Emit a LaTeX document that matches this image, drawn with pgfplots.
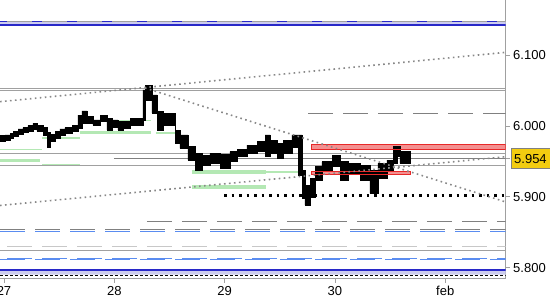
\documentclass[border=0pt]{standalone}
\usepackage{fontspec}
\setmainfont{Liberation Sans}
\usepackage{pgfplots}
\pgfplotsset{compat=1.18}
\definecolor{glin}{HTML}{A0A0A0}
\definecolor{dotg}{HTML}{888888}
\definecolor{dglin}{HTML}{808080}
\definecolor{lgreen}{HTML}{B4E8B4}
\definecolor{rline}{HTML}{E82828}
\definecolor{rfill}{HTML}{F39090}
\definecolor{bblue}{HTML}{2828C8}
\definecolor{lblue}{HTML}{5A8CF0}
\definecolor{lav}{HTML}{CCCCEE}
\definecolor{gold}{HTML}{F2CC10}
\definecolor{vlgray}{HTML}{C8C8C8}

% price envelope: highs forward, lows backward (step outline)
\pgfplotstableread{
x y
-0.87 5.9863
0.22 5.9873
1.31 5.9897
1.96 5.9929
3.05 5.9958
4.13 5.9976
5.22 6.0004
6.31 6.0038
7.18 6.0014
8.49 5.9976
9.36 5.9911
10.01 5.9883
11.10 5.9920
12.18 5.9958
13.27 5.9976
14.80 6.0004
16.10 6.0155
16.97 6.0212
18.06 6.0131
19.36 6.0085
20.89 6.0155
22.41 6.0109
23.50 6.0085
24.80 6.0061
25.89 6.0061
27.42 6.0109
30.24 6.0509
30.68 6.0566
32.20 6.0438
33.29 6.0202
34.60 6.0180
37.21 5.9943
38.29 5.9873
40.03 5.9707
41.56 5.9614
43.08 5.9590
44.82 5.9614
47.00 5.9604
49.17 5.9637
50.70 5.9670
52.87 5.9731
55.05 5.9778
56.79 5.9873
57.88 5.9802
59.40 5.9760
60.71 5.9802
62.66 5.9873
63.97 5.9873
64.84 5.9378
65.49 5.9165
66.58 5.9264
67.67 5.9424
69.19 5.9495
71.37 5.9590
73.11 5.9495
74.85 5.9472
77.46 5.9448
79.63 5.9378
81.37 5.9472
83.33 5.9519
84.64 5.9707
85.51 5.9717
86.16 5.9637
88.34 5.9637
88.34 5.9472
86.16 5.9566
85.51 5.9472
84.64 5.9378
83.33 5.9260
81.37 5.9052
79.63 5.9236
77.46 5.9331
74.85 5.9236
73.11 5.9424
71.37 5.9378
69.19 5.9236
67.67 5.8996
66.58 5.8883
65.49 5.8982
64.84 5.9307
63.97 5.9703
62.66 5.9618
60.71 5.9547
59.40 5.9618
57.88 5.9566
56.79 5.9637
55.05 5.9614
52.87 5.9576
50.70 5.9495
49.17 5.9406
47.00 5.9472
44.82 5.9448
43.08 5.9378
41.56 5.9519
40.03 5.9685
38.29 5.9755
37.21 6.0014
34.60 5.9943
33.29 6.0184
32.20 6.0368
30.68 6.0085
30.24 6.0014
27.42 5.9968
25.89 5.9944
24.80 5.9976
23.50 5.9944
22.41 6.0061
20.89 6.0014
19.36 6.0038
18.06 6.0038
16.97 5.9968
16.10 5.9920
14.80 5.9897
13.27 5.9863
12.18 5.9827
11.10 5.9779
10.01 5.9704
9.36 5.9863
8.49 5.9929
7.18 5.9958
6.31 5.9929
5.22 5.9911
4.13 5.9883
3.05 5.9849
1.96 5.9827
1.31 5.9803
0.22 5.9788
-0.87 5.9788
-0.87 5.9863
}\pricetable

\begin{document}
\begin{tikzpicture}
\path[use as bounding box] (0pt,-21pt) rectangle (550pt,279pt);
\begin{axis}[
  at={(0pt,0pt)}, anchor=south west,
  scale only axis, width=505.7pt, height=279pt,
  xmin=-0.87, xmax=109.16, ymin=5.7842, ymax=6.1777,
  axis x line=bottom, axis y line=right,
  axis line style={glin, line width=1pt, -},
  tick align=outside, major tick length=4pt,
  tick style={glin, line width=0.8pt},
  xtick={0,24,48,72,96}, xticklabels={27,28,29,30,feb},
  ytick={5.8,5.9,6.0,6.1},
  /pgf/number format/assume math mode=true,
  y tick label style={/pgf/number format/.cd, fixed, fixed zerofill, precision=3, /tikz/.cd},
  tick label style={font=\fontsize{13}{13}\selectfont},
  extra y ticks={5.954},
  extra y tick style={y tick label style={fill=gold, draw=dglin, inner xsep=3pt, minimum height=20pt, xshift=1.3pt}},
  clip=true,
]
% bands
\addplot[draw=none, fill=lav] coordinates {(-0.87,6.1425) (109.16,6.1425) (109.16,6.1474) (-0.87,6.1474) (-0.87,6.1425)};
\addplot[draw=none, fill=lav] coordinates {(-0.87,5.7904) (109.16,5.7904) (109.16,5.7969) (-0.87,5.7969) (-0.87,5.7904)};
\addplot[glin, line width=1.3pt] coordinates {(-0.87,6.1474) (109.16,6.1474)};
\addplot[bblue, line width=1.3pt, dash pattern=on 10pt off 25pt, dash phase=3pt] coordinates {(-0.87,6.1474) (109.16,6.1474)};
\addplot[bblue, line width=1.2pt] coordinates {(-0.87,6.1425) (109.16,6.1425)};
\addplot[bblue, line width=1.2pt] coordinates {(-0.87,5.7969) (109.16,5.7969)};
\addplot[black, line width=1pt, dash pattern=on 3pt off 2pt] coordinates {(-0.87,5.7894) (109.16,5.7894)};
% gray lines
\addplot[glin, line width=1pt] coordinates {(-0.87,6.0532) (109.16,6.0532)};
\addplot[glin, line width=1pt] coordinates {(-0.87,6.0494) (109.16,6.0494)};
\addplot[dglin, line width=1pt, dash pattern=on 25pt off 10pt] coordinates {(66.15,6.0179) (109.16,6.0179)};
\addplot[glin, line width=1pt] coordinates {(-0.87,5.9615) (109.16,5.9615)};
\addplot[dglin, line width=1pt] coordinates {(23.93,5.954) (109.16,5.954)};
\addplot[glin, line width=1pt] coordinates {(-0.87,5.9436) (109.16,5.9436)};
\addplot[dglin, line width=1pt, dash pattern=on 25pt off 10pt] coordinates {(31.11,5.8656) (109.16,5.8656)};
\addplot[dglin, line width=1pt, dash pattern=on 25pt off 10pt] coordinates {(-0.87,5.8543) (109.16,5.8543)};
\addplot[lblue, line width=1pt, dash pattern=on 25pt off 10pt] coordinates {(-0.87,5.8515) (109.16,5.8515)};
\addplot[vlgray, line width=1pt, dash pattern=on 25pt off 10pt, dash phase=28pt] coordinates {(-0.87,5.8303) (109.16,5.8303)};
\addplot[glin, line width=1pt] coordinates {(-0.87,5.8237) (109.16,5.8237)};
\addplot[lblue, line width=1pt, dash pattern=on 25pt off 10pt, dash phase=28pt] coordinates {(-0.87,5.8134) (109.16,5.8134)};
\addplot[lblue, line width=1pt, dash pattern=on 25pt off 10pt] coordinates {(-0.87,5.8110) (109.16,5.8110)};
% green segments
\addplot[lgreen, line width=1.5pt] coordinates {(-0.87,5.9665) (8.27,5.9665)};
\addplot[lgreen, line width=3pt] coordinates {(-0.87,5.9520) (7.83,5.9520)};
\addplot[lgreen, line width=1.2pt] coordinates {(8.27,5.9458) (16.54,5.9458)};
\addplot[lgreen, line width=2pt] coordinates {(8.27,5.9830) (16.54,5.9830)};
\addplot[lgreen, line width=3pt] coordinates {(16.54,5.9911) (31.98,5.9911)};
\addplot[lgreen, line width=1.3pt] coordinates {(20.23,6.0081) (31.98,6.0081)};
\addplot[lgreen, line width=2pt] coordinates {(33.07,5.9905) (37.64,5.9905)};
\addplot[lgreen, line width=1.3pt] coordinates {(33.94,6.0141) (36.12,6.0141)};
\addplot[lgreen, line width=3.5pt] coordinates {(40.91,5.9354) (57.01,5.9354)};
\addplot[lgreen, line width=2.5pt] coordinates {(57.01,5.9350) (63.97,5.9350)};
\addplot[lgreen, line width=3.5pt] coordinates {(40.91,5.9141) (57.01,5.9141)};
\addplot[lgreen, line width=2.5pt] coordinates {(57.22,5.9622) (62.66,5.9622)};
% red box fills
\addplot[draw=none, fill=rfill] coordinates {(66.8,5.9671) (109.16,5.9671) (109.16,5.9732) (66.8,5.9732) (66.8,5.9671)};
\addplot[draw=none, fill=rfill] coordinates {(66.8,5.9319) (88.5,5.9319) (88.5,5.9365) (66.8,5.9365) (66.8,5.9319)};
% black dotted
\addplot[black, line width=2.5pt, dash pattern=on 2.5pt off 5pt] coordinates {(47.9,5.9017) (109.16,5.9017)};
% price
\addplot[const plot, draw=black, fill=black, line width=0.8pt, line join=miter] table[x=x,y=y] {\pricetable};
% red outlines
\addplot[rline, line width=1pt] coordinates {(66.8,5.9671) (109.16,5.9671) (109.16,5.9732) (66.8,5.9732) (66.8,5.9671)};
\addplot[rline, line width=1pt] coordinates {(66.8,5.9319) (88.5,5.9319) (88.5,5.9365) (66.8,5.9365) (66.8,5.9319)};
% dotted trend lines
\addplot[dotg, line width=1.6pt, dash pattern=on 1.6pt off 3.4pt] coordinates {(-0.87,6.0343) (109.16,6.1039)};
\addplot[dotg, line width=1.6pt, dash pattern=on 1.6pt off 3.4pt] coordinates {(30.68,6.0536) (109.16,5.8928)};
\addplot[dotg, line width=1.6pt, dash pattern=on 1.6pt off 3.4pt] coordinates {(-0.87,5.8879) (109.16,5.9567)};
\end{axis}
\end{tikzpicture}
\end{document}
